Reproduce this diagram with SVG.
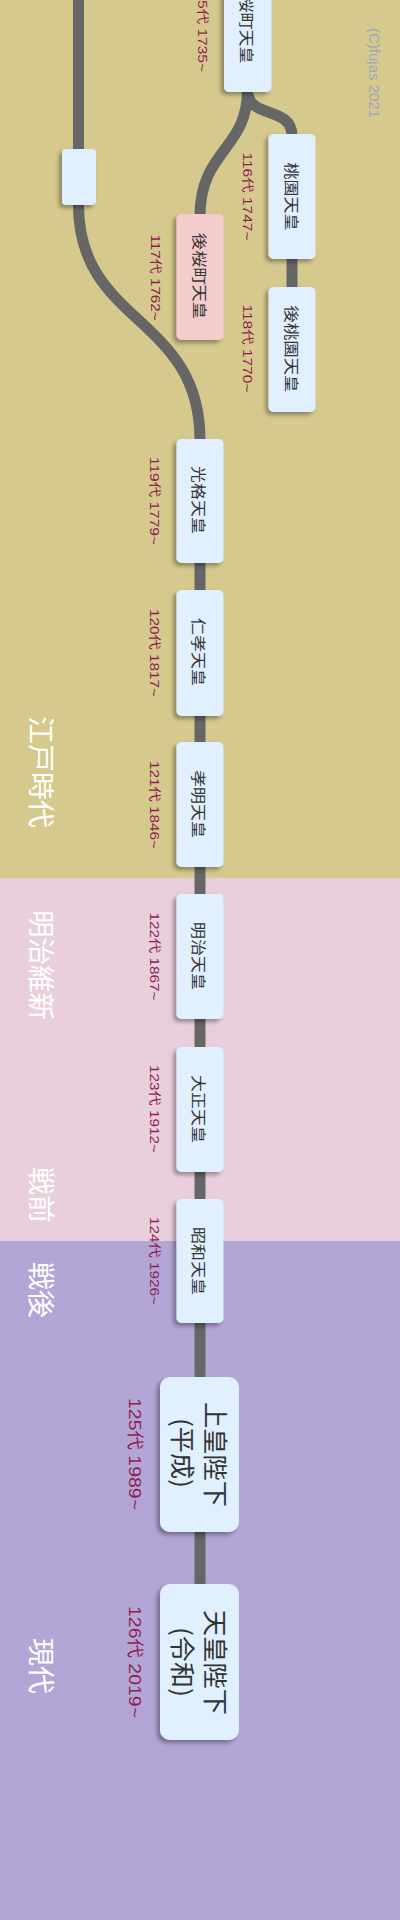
<svg xmlns="http://www.w3.org/2000/svg" width="400" height="1920" viewBox="0 0 400 1920">
<defs>
<filter id="sh" x="-30%" y="-10%" width="160%" height="125%">
<feDropShadow dx="-3" dy="3" stdDeviation="2" flood-color="#000" flood-opacity="0.35"/>
</filter>
<style>
.box{fill:#e0f0ff;filter:url(#sh)}
.pink{fill:#f5cccc}
.line{fill:none;stroke:#666;stroke-width:11}
.nt{font-family:"Noto Sans CJK JP","Liberation Sans",sans-serif;font-size:14.5px;fill:#333;text-anchor:middle;dominant-baseline:central}
.bt{font-family:"Noto Sans CJK JP","Liberation Sans",sans-serif;font-size:25px;fill:#333;text-anchor:middle;dominant-baseline:central}
.lb{font-family:"Liberation Sans","Noto Sans CJK JP",sans-serif;font-size:12px;fill:#8c1e50;text-anchor:middle;dominant-baseline:central}
.lbb{font-family:"Liberation Sans","Noto Sans CJK JP",sans-serif;font-size:17px;fill:#8c1e50;text-anchor:middle;dominant-baseline:central}
.era{font-family:"Noto Sans CJK JP",sans-serif;font-size:27px;fill:#fff;text-anchor:middle;dominant-baseline:central}
.cp{font-family:"Liberation Sans",sans-serif;font-size:14px;fill:#a2a5b6;text-anchor:middle;dominant-baseline:central}
</style>
</defs>
<g id="bands">
<rect x="0" y="0" width="400" height="878" fill="#d6c98e"/>
<rect x="0" y="878" width="400" height="363" fill="#e9cfdc"/>
<rect x="0" y="1241" width="400" height="679" fill="#b3a5d6"/>
</g>
<g id="eras">
<text class="era" transform="translate(42,772) rotate(90)" textLength="112" lengthAdjust="spacingAndGlyphs">江戸時代</text>
<text class="era" transform="translate(42,965) rotate(90)" textLength="110" lengthAdjust="spacingAndGlyphs">明治維新</text>
<text class="era" transform="translate(42,1195) rotate(90)" textLength="56" lengthAdjust="spacingAndGlyphs">戦前</text>
<text class="era" transform="translate(42,1290) rotate(90)" textLength="56" lengthAdjust="spacingAndGlyphs">戦後</text>
<text class="era" transform="translate(42,1666) rotate(90)" textLength="56" lengthAdjust="spacingAndGlyphs">現代</text>
</g>
<text id="copyright" class="cp" transform="translate(374,73) rotate(90)" textLength="90" lengthAdjust="spacingAndGlyphs">(C)fujas 2021</text>
<g id="connectors">
<path class="line" d="M78.5,0 V205 C78.5,325 200,315 200,440"/>
<path class="line" d="M247.5,90 C247.5,150 200,150 200,216"/>
<path class="line" d="M247.5,90 C247.5,120 292,105 292,136"/>
<path class="line" d="M292,258 V288"/>
<path class="line" d="M200,440 V1600"/>
</g>
<g id="n-small">
<rect class="box" x="62" y="149" width="34" height="56" rx="4"/>
</g>
<g id="n115">
<rect class="box" x="224" y="-33" width="47.5" height="125" rx="5"/>
<text class="nt" transform="translate(247.5,29.5) rotate(90)" textLength="68" lengthAdjust="spacingAndGlyphs">桜町天皇</text>
<text class="lb" transform="translate(202,28) rotate(90)" textLength="88" lengthAdjust="spacingAndGlyphs">115代 1735~</text>
</g>
<g id="n116">
<rect class="box" x="268.5" y="134" width="47" height="125" rx="5"/>
<text class="nt" transform="translate(292,196.5) rotate(90)" textLength="68" lengthAdjust="spacingAndGlyphs">桃園天皇</text>
<text class="lb" transform="translate(246.5,196.5) rotate(90)" textLength="88" lengthAdjust="spacingAndGlyphs">116代 1747~</text>
</g>
<g id="n117">
<rect class="box pink" x="176.5" y="214" width="47" height="126" rx="5"/>
<text class="nt" transform="translate(200,276) rotate(90)" textLength="86" lengthAdjust="spacingAndGlyphs">後桜町天皇</text>
<text class="lb" transform="translate(154.5,277.5) rotate(90)" textLength="86" lengthAdjust="spacingAndGlyphs">117代 1762~</text>
</g>
<g id="n118">
<rect class="box" x="268.5" y="287" width="47" height="125" rx="5"/>
<text class="nt" transform="translate(292,349) rotate(90)" textLength="87" lengthAdjust="spacingAndGlyphs">後桃園天皇</text>
<text class="lb" transform="translate(246.5,348.5) rotate(90)" textLength="88" lengthAdjust="spacingAndGlyphs">118代 1770~</text>
</g>
<g id="n119">
<rect class="box" x="176.5" y="439" width="47" height="124" rx="5"/>
<text class="nt" transform="translate(199.5,500) rotate(90)" textLength="68" lengthAdjust="spacingAndGlyphs">光格天皇</text>
<text class="lb" transform="translate(154,501) rotate(90)" textLength="88" lengthAdjust="spacingAndGlyphs">119代 1779~</text>
</g>
<g id="n120">
<rect class="box" x="176.5" y="590" width="47" height="126" rx="5"/>
<text class="nt" transform="translate(199.5,652) rotate(90)" textLength="68" lengthAdjust="spacingAndGlyphs">仁孝天皇</text>
<text class="lb" transform="translate(154,653) rotate(90)" textLength="88" lengthAdjust="spacingAndGlyphs">120代 1817~</text>
</g>
<g id="n121">
<rect class="box" x="176.5" y="742" width="47" height="125" rx="5"/>
<text class="nt" transform="translate(199.5,804) rotate(90)" textLength="68" lengthAdjust="spacingAndGlyphs">孝明天皇</text>
<text class="lb" transform="translate(154,805) rotate(90)" textLength="88" lengthAdjust="spacingAndGlyphs">121代 1846~</text>
</g>
<g id="n122">
<rect class="box" x="176.5" y="894" width="47" height="125" rx="5"/>
<text class="nt" transform="translate(199.5,956) rotate(90)" textLength="68" lengthAdjust="spacingAndGlyphs">明治天皇</text>
<text class="lb" transform="translate(154,956.5) rotate(90)" textLength="88" lengthAdjust="spacingAndGlyphs">122代 1867~</text>
</g>
<g id="n123">
<rect class="box" x="176.5" y="1047" width="47" height="125" rx="5"/>
<text class="nt" transform="translate(199.5,1109) rotate(90)" textLength="68" lengthAdjust="spacingAndGlyphs">大正天皇</text>
<text class="lb" transform="translate(154,1109) rotate(90)" textLength="88" lengthAdjust="spacingAndGlyphs">123代 1912~</text>
</g>
<g id="n124">
<rect class="box" x="176.5" y="1199" width="47" height="124" rx="5"/>
<text class="nt" transform="translate(199.5,1261) rotate(90)" textLength="68" lengthAdjust="spacingAndGlyphs">昭和天皇</text>
<text class="lb" transform="translate(154,1261) rotate(90)" textLength="88" lengthAdjust="spacingAndGlyphs">124代 1926~</text>
</g>
<g id="n125">
<rect class="box" x="160" y="1377" width="79" height="155" rx="10"/>
<text class="bt" transform="translate(216.5,1454.5) rotate(90)" textLength="105" lengthAdjust="spacingAndGlyphs">上皇陛下</text>
<text class="bt" transform="translate(183.5,1453) rotate(90)" textLength="70" lengthAdjust="spacingAndGlyphs">(平成)</text>
<text class="lbb" transform="translate(134.5,1454) rotate(90)" textLength="112" lengthAdjust="spacingAndGlyphs">125代 1989~</text>
</g>
<g id="n126">
<rect class="box" x="160" y="1584" width="79" height="156" rx="10"/>
<text class="bt" transform="translate(216.5,1662.5) rotate(90)" textLength="105" lengthAdjust="spacingAndGlyphs">天皇陛下</text>
<text class="bt" transform="translate(183.5,1662) rotate(90)" textLength="70" lengthAdjust="spacingAndGlyphs">(令和)</text>
<text class="lbb" transform="translate(134.5,1662) rotate(90)" textLength="112" lengthAdjust="spacingAndGlyphs">126代 2019~</text>
</g>
</svg>
